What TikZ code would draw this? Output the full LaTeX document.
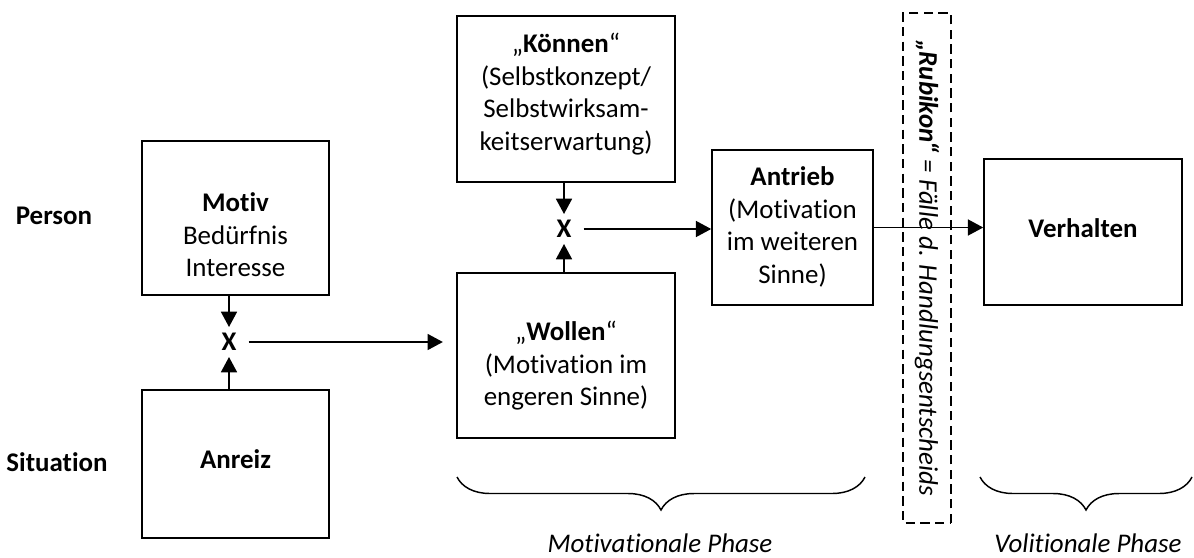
\documentclass[tikz,border=0pt]{standalone}
\usepackage{fontspec}
\setmainfont{Carlito}[Ligatures=NoCommon]
\usetikzlibrary{arrows.meta, positioning, calc, decorations.pathreplacing}

\tikzset{
  >={Triangle[length=11.5pt,width=12pt]},
  box/.style 2 args={
    draw, line width=1.2pt, inner sep=0pt,
    minimum width=#1*0.75pt, minimum height=#2*0.75pt
  },
  txt/.style={align=center, inner sep=0pt, font=\fontsize{20.2}{24.4}\selectfont},
  side/.style={inner sep=0pt, font=\fontsize{20.2}{24.4}\selectfont\bfseries},
  mult/.style={inner xsep=9pt, inner ysep=4.5pt, font=\fontsize{20.2}{24.4}\selectfont\bfseries},
  arr/.style={->, line width=1.3pt},
  phase/.style={decorate, decoration={brace, mirror, amplitude=24.75pt}, line width=1.1pt},
  phaselab/.style={inner sep=0pt, anchor=base, font=\fontsize{20.2}{24.4}\selectfont\itshape},
  rubikon/.style={
    draw, dash pattern=on 7pt off 4pt, line width=1.3pt, inner sep=0pt,
    minimum width=382.5pt, minimum height=36pt,
    font=\fontsize{20.2}{24.4}\selectfont\itshape
  }
}

\begin{document}
\begin{tikzpicture}[x=0.75pt, y=-0.75pt]
  \useasboundingbox (0,0) rectangle (1194,557);

  % row labels
  \node[side] (person) at (54,216) {Person};
  \node[side] (situation) at (57,462) {Situation};

  % boxes
  \node[box={187}{154}] (motiv) at (235.5,218) {};
  \node[txt] (motivtxt) at (235.5,235) {\textbf{Motiv}\\Bedürfnis\\Interesse};
  \node[box={187}{148}] (anreiz) at (235.5,464) {};
  \node[txt] (anreiztxt) at (235.5,459) {\textbf{Anreiz}};
  \node[box={218}{166}] (koennen) at (566,99) {};
  \node[txt] (koennentxt) at (566,94) {„\textbf{Können}“\\(Selbstkonzept/\\Selbstwirksam-\\keitserwartung)};
  \node[box={218}{165}] (wollen) at (566,355.5) {};
  \node[txt] (wollentxt) at (566,366) {„\textbf{Wollen}“\\(Motivation im\\engeren Sinne)};
  \node[box={161}{155}] (antrieb) at (792.5,227.5) {};
  \node[txt] (antriebtxt) at (792.5,227) {\textbf{Antrieb}\\(Motivation\\im weiteren\\Sinne)};
  \node[box={198}{146}] (verhalten) at (1083,232) {};
  \node[txt] (verhaltentxt) at (1083,228) {\textbf{Verhalten}};

  % multiplication points
  \node[mult] (xlow) at (229,342) {X};
  \node[mult] (xup) at (564,229) {X};

  % Rubikon
  \node[rubikon, rotate=-90] (rubi) at (927,268)
    {\textbf{„Rubikon“} = Fälle d. Handlungsentscheids};

  % connectors
  \draw[arr] (motiv.south -| xlow) -- (xlow);
  \draw[arr] (anreiz.north -| xlow) -- (xlow);
  \draw[arr, shorten >=10pt] (xlow) -- (wollen.west |- xlow);
  \draw[arr] (koennen.south -| xup) -- (xup);
  \draw[arr] (wollen.north -| xup) -- (xup);
  \draw[arr] (xup) -- (antrieb.west |- xup);
  \draw[arr] (antrieb.east) -- (verhalten.west |- antrieb.east);

  % phases
  \coordinate (m1) at (457,477);
  \coordinate (m2) at (865,477);
  \coordinate (v1) at (980,477);
  \coordinate (v2) at (1192,477);
  \draw[phase] (m1) -- (m2);
  \draw[phase] (v1) -- (v2);
  \node[phaselab] (motphase) at (660,552) {Motivationale Phase};
  \node[phaselab] (volphase) at (1088,552) {Volitionale Phase};
\end{tikzpicture}
\end{document}
